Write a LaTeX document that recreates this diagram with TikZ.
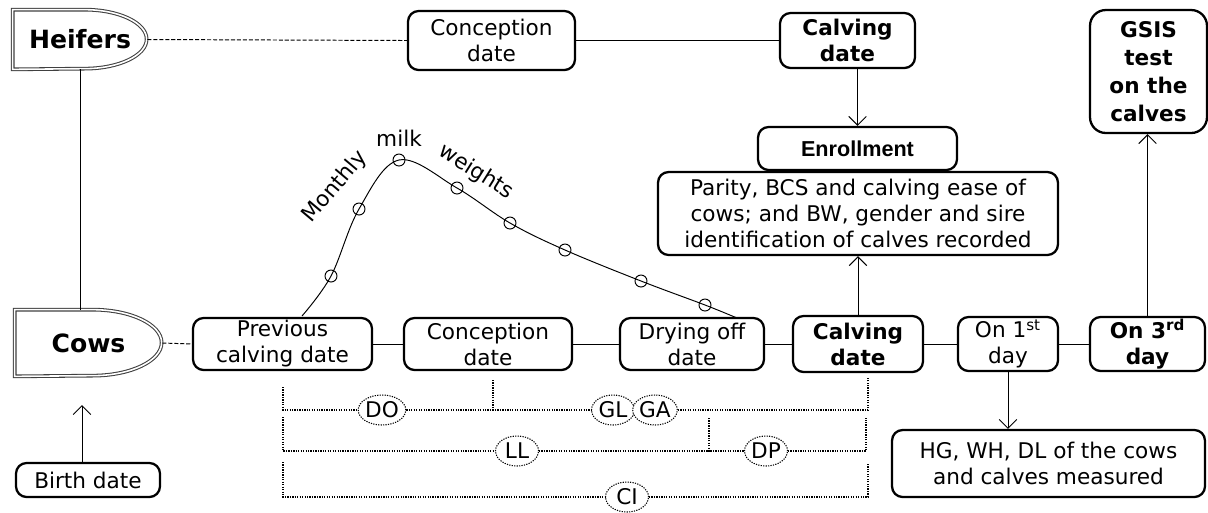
\documentclass[tikz,border=0pt]{standalone}
\usepackage{fontspec}
\setmainfont{DejaVu Sans}
\newfontfamily\enrollfont{Liberation Sans}
\usetikzlibrary{positioning,shapes.geometric,arrows.meta}

\tikzset{
    datebox/.style={draw, line width=1.3pt, rounded corners=6pt, align=center, inner sep=0pt, font=\fontsize{12.3}{14.8}\selectfont},
    keybox/.style={datebox, font=\fontsize{12.3}{14.8}\selectfont\bfseries},
    groupbox/.style={inner sep=0pt, font=\fontsize{14.3}{17}\selectfont\bfseries},
    groupline/.style={draw=black!75, double=white, double distance=0.9pt, line width=0.6pt},
    link/.style={line width=0.55pt},
    dashlink/.style={link, dash pattern=on 2.3pt off 1.1pt},
    arr/.style={link, -{Straight Barb[length=5pt,width=10pt]}},
    span/.style={line width=0.6pt, dash pattern=on 0.7pt off 0.7pt},
    spanlabel/.style={ellipse, draw, span, fill=white, minimum width=0.86cm, minimum height=0.6cm, inner sep=0pt, font=\fontsize{12.3}{14.8}\selectfont},
    curvetext/.style={inner sep=0pt, font=\fontsize{12.3}{14.8}\selectfont}
}

\begin{document}
\begin{tikzpicture}[x=0.02cm, y=-0.02cm]

    \def\topRow{40.5}
    \def\midRow{344}
    \def\markRad{0.12cm}

    \useasboundingbox (0,0) rectangle (1208,512);

    % draw groups
    \node[groupbox, minimum width=2.68cm, minimum height=1.18cm] (heifers) at (80,39.5) {Heifers};
    \draw[groupline] (heifers.north west) -- ++(1.44cm,0cm) arc[start angle=90, end angle=-90, x radius=1.24cm, y radius=0.59cm] -- (heifers.south west) -- cycle;

    \node[groupbox, minimum width=2.94cm, minimum height=1.32cm] (cows) at (88.5,343) {Cows};
    \draw[groupline] (cows.north west) -- ++(1.56cm,0cm) arc[start angle=90, end angle=-90, x radius=1.38cm, y radius=0.66cm] -- (cows.south west) -- cycle;

    % draw heifer row
    \node[datebox, minimum width=3.34cm, minimum height=1.18cm] (heiferConc) at (491.5,\topRow) {Conception\\date};
    \node[keybox, minimum width=2.7cm, minimum height=1.1cm] (calvTop) at (847.5,\topRow) {Calving\\date};

    % draw enrollment
    \node[datebox, minimum width=3.98cm, minimum height=0.86cm, font=\enrollfont\fontsize{12.3}{14.8}\selectfont\bfseries] (enroll) at (857.5,148.5) {Enrollment};
    \node[datebox, minimum width=8cm, minimum height=1.66cm] (parity) at (858,213.5) {Parity, BCS and calving ease of\\cows; and BW, gender and sire\\identification of calves recorded};

    \node[keybox, rounded corners=9pt, minimum width=2.34cm, minimum height=2.46cm, font=\fontsize{12.3}{16}\selectfont\bfseries] (gsis) at (1148.5,71.5) {GSIS\\test\\on the\\calves};

    % draw cow row
    \node[datebox, minimum width=3.58cm, minimum height=1.04cm] (prevCalv) at (282.5,\midRow) {Previous\\calving date};
    \node[datebox, minimum width=3.36cm, minimum height=1.04cm] (concMid) at (488,\midRow) {Conception\\date};
    \node[datebox, minimum width=2.88cm, minimum height=1.04cm] (dryOff) at (692,\midRow) {Drying off\\date};
    \node[keybox, minimum width=2.6cm, minimum height=1.12cm] (calvMid) at (858,\midRow) {Calving\\date};
    \node[datebox, minimum width=2cm, minimum height=1.08cm] (first) at (1008,\midRow) {On 1\textsuperscript{st}\\day};
    \node[keybox, minimum width=2.3cm, minimum height=1.08cm] (third) at (1147.5,\midRow) {On 3\textsuperscript{rd}\\day};

    \node[datebox, minimum width=6.26cm, minimum height=1.34cm] (hg) at (1048.5,463.5) {HG, WH, DL of the cows\\and calves measured};
    \node[datebox, minimum width=2.88cm, minimum height=0.68cm] (birth) at (88,480) {Birth date};
    \coordinate (cowsIn) at (82,405);

    % draw links
    \draw[dashlink] (heifers.east) -- (heiferConc.west);
    \draw[link] (heiferConc) -- (calvTop);
    \draw[arr] (calvTop.south -| enroll.north) -- (enroll.north);
    \draw[arr] (calvMid) -- (parity);
    \draw[link] (heifers.south) -- (heifers.south |- cows.north);
    \draw[dashlink] (cows.east) -- (prevCalv.west);
    \draw[link] (prevCalv) -- (concMid) -- (dryOff) -- (calvMid) -- (first) -- (third);
    \draw[arr] (third.north) -- (third.north |- gsis.south);
    \draw[arr] (first.south) -- (first.south |- hg.north);
    \draw[arr] (birth.north -| cowsIn) -- (cowsIn);

    % draw lactation curve
    \draw[link] plot[smooth, tension=0.6] coordinates {(302,316) (331,276) (359,209) (399,160) (457,188) (510,223) (565,250) (641,281) (705,305) (737,318)};
    \foreach \p in {(331,276), (359,209), (399,160), (457,188), (510,223), (565,250), (641,281), (705,305)}
        \draw[link] \p circle[radius=\markRad];

    \node[curvetext, rotate=50] (monthly) at (335,187) {Monthly};
    \node[curvetext] (milk) at (399,138) {milk};
    \node[curvetext, rotate=-32] (weights) at (476,172) {weights};

    % draw intervals
    \coordinate (doL) at (283,387);
    \coordinate (doM) at (493,380);
    \coordinate (gaR) at (868,378);
    \node[spanlabel] (do) at (382,410) {DO};
    \node[spanlabel] (gl) at (613,410) {GL};
    \node[spanlabel] (ga) at (655,410) {GA};
    \draw[span] (doL) |- (do.west);
    \draw[span] (do.east) -| (doM);
    \draw[span] (doM) |- (gl.west);
    \draw[span] (ga.east) -| (gaR);

    \coordinate (llL) at (283,417);
    \coordinate (llM) at (709,418);
    \coordinate (dpR) at (866,418);
    \node[spanlabel] (ll) at (517,451) {LL};
    \node[spanlabel] (dp) at (766,451) {DP};
    \draw[span] (llL) |- (ll.west);
    \draw[span] (ll.east) -| (llM);
    \draw[span] (llM) |- (dp.west);
    \draw[span] (dp.east) -| (dpR);

    \coordinate (ciL) at (283,462);
    \coordinate (ciR) at (868,463);
    \node[spanlabel] (ci) at (627,497) {CI};
    \draw[span] (ciL) |- (ci.west);
    \draw[span] (ci.east) -| (ciR);

\end{tikzpicture}
\end{document}
